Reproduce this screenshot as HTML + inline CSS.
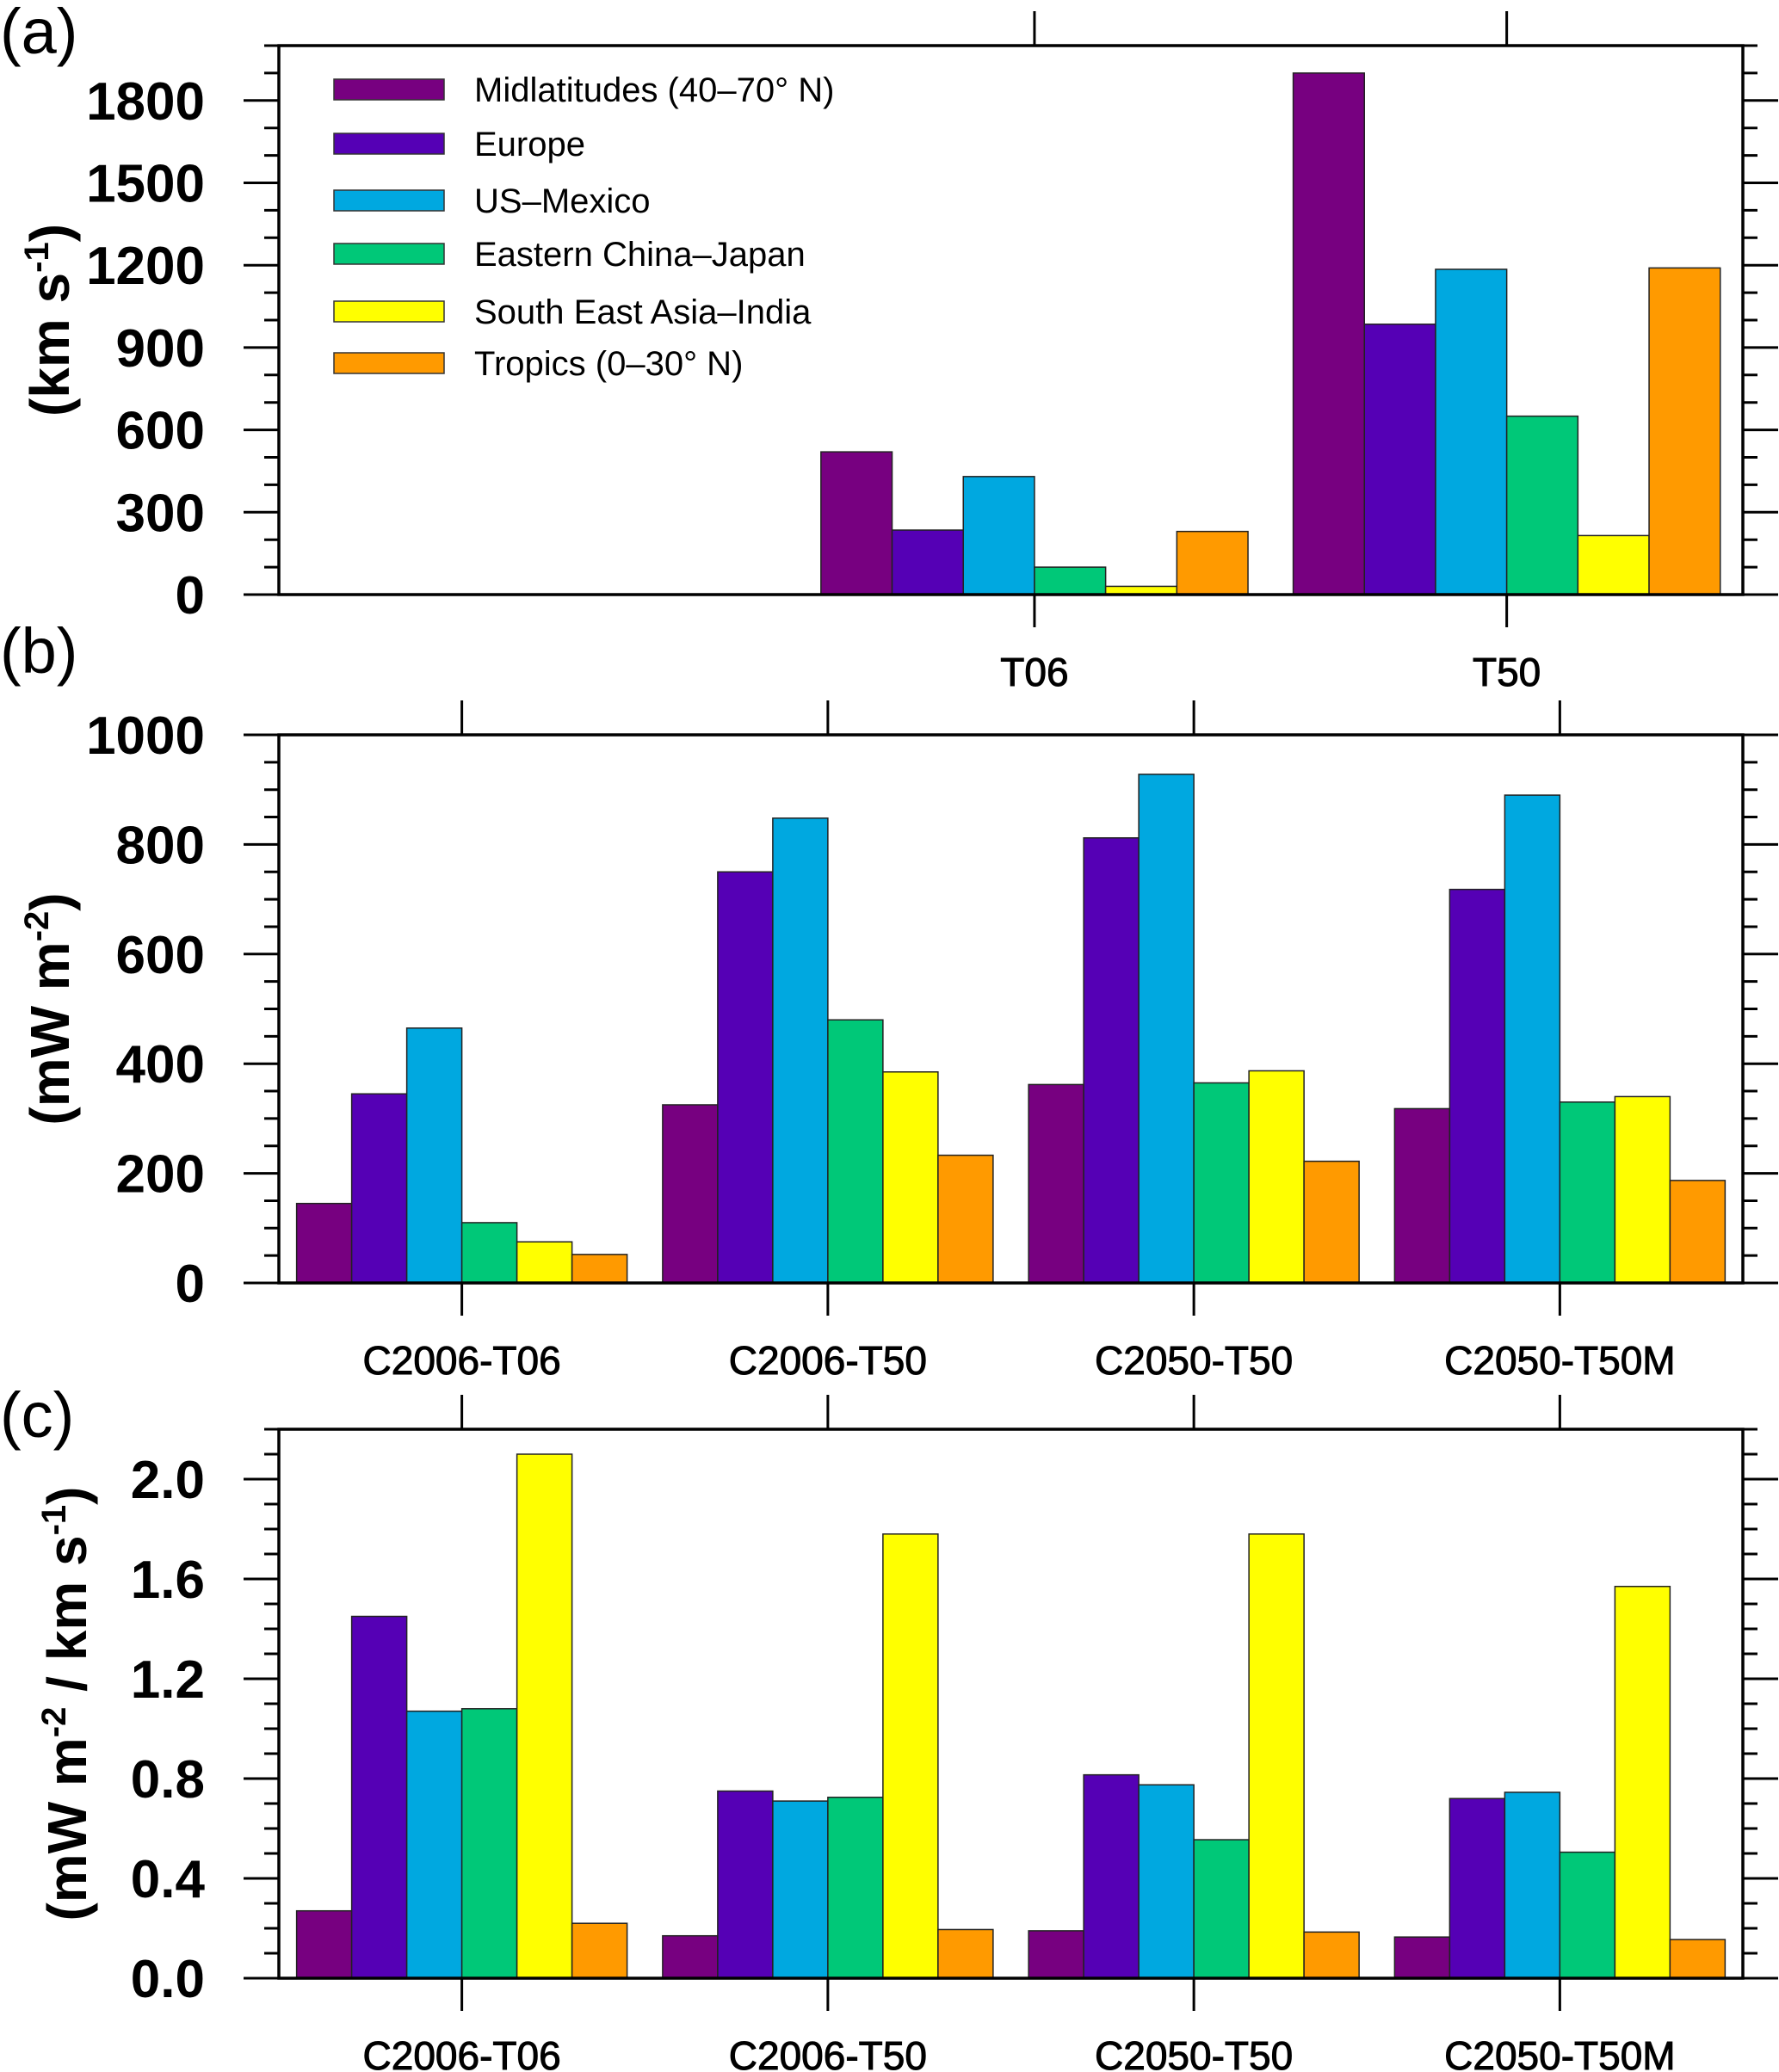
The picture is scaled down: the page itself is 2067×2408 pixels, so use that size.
<!DOCTYPE html>
<html><head><meta charset="utf-8"><style>
html,body{margin:0;padding:0;background:#fff}
svg{display:block}
text{font-family:"Liberation Sans",sans-serif;fill:#000}
</style></head><body>
<svg id="chart" width="2067" height="2408" viewBox="0 0 2067 2408" xmlns="http://www.w3.org/2000/svg"></svg>
<script>
const seriesNames = ["Midlatitudes (40\u201370\u00b0 N)","Europe","US\u2013Mexico","Eastern China\u2013Japan","South East Asia\u2013India","Tropics (0\u201330\u00b0 N)"];
const seriesColors = ["#770080","#5500b5","#00a8e0","#00c878","#ffff00","#ff9a00"];
const catsA = ["T06","T50"];
const valsA = [[520,235,430,100,30,230],[1900,985,1185,650,215,1190]];
const ticksA = [0,300,600,900,1200,1500,1800];
const catsB = ["C2006-T06","C2006-T50","C2050-T50","C2050-T50M"];
const valsB = [[145,345,465,110,75,52],[325,750,848,480,385,233],[362,812,928,365,387,222],[318,718,890,330,340,187]];
const ticksB = [0,200,400,600,800,1000];
const catsC = ["C2006-T06","C2006-T50","C2050-T50","C2050-T50M"];
const valsC = [[0.27,1.45,1.07,1.08,2.10,0.22],[0.17,0.75,0.71,0.725,1.78,0.195],[0.19,0.815,0.775,0.555,1.78,0.185],[0.165,0.72,0.745,0.505,1.57,0.155]];
const ticksC = ["0.0","0.4","0.8","1.2","1.6","2.0"];

const svg = document.getElementById('chart');
const NS = "http://www.w3.org/2000/svg";
function el(tag, attrs, parent){const e=document.createElementNS(NS,tag);for(const k in attrs)e.setAttribute(k,attrs[k]);(parent||svg).appendChild(e);return e;}

function panel(cfg){
  const g = el('g',{});
  
  
  const L=324,R=2025,T=cfg.top,B=cfg.bottom;
  const y = v => B - (v - 0)/(cfg.ymax)*(B-T);
  const x = v => L + (v - cfg.xmin)/(cfg.xmax-cfg.xmin)*(R-L);
  // bars
  cfg.vals.forEach((grp,gi)=>{
    const cx = x(cfg.catPos[gi]);
    const bw = cfg.barW;
    grp.forEach((v,si)=>{
      const bx = cx - bw*3 + si*bw;
      const r = el('rect',{x:bx,y:y(v),width:bw,height:B-y(v),fill:seriesColors[si],stroke:"#222","stroke-width":1.5},g);
      
      
    });
  });
  // frame
  const fr = el('rect',{x:L,y:T,width:R-L,height:B-T,fill:"none",stroke:"#000","stroke-width":3.5},g);
  
  
  // y ticks
  for(let v=0; v<=cfg.ymax+1e-9; v+=cfg.minor){
    const isMaj = Math.abs(v/cfg.major - Math.round(v/cfg.major))<1e-6;
    const len = isMaj?41:17;
    el('line',{x1:L-len,x2:L,y1:y(v),y2:y(v),stroke:"#000","stroke-width":3},g);
    el('line',{x1:R,x2:R+len,y1:y(v),y2:y(v),stroke:"#000","stroke-width":3},g);
  }
  cfg.ticks.forEach(t=>{
    const tx = el('text',{x:238,y:y(parseFloat(t))+22,"text-anchor":"end","font-size":62,"font-weight":"bold"},g);
    tx.textContent = t;
    
    
  });
  // x ticks
  cfg.cats.forEach((c,i)=>{
    const cx = x(cfg.catPos[i]);
    el('line',{x1:cx,x2:cx,y1:T-40,y2:T,stroke:"#000","stroke-width":3},g);
    el('line',{x1:cx,x2:cx,y1:B,y2:B+38,stroke:"#000","stroke-width":3},g);
    const tx = el('text',{x:cx,y:B+106,"text-anchor":"middle","font-size":46,stroke:"#000","stroke-width":1},g);
    tx.textContent = c;
    
    
  });
  // y title
  const cy=(T+B)/2;
  const yt = el('text',{x:0,y:0,transform:`translate(${cfg.titleX},${cy}) rotate(-90)`,"text-anchor":"middle","font-size":64,"font-weight":"bold"},g);
  yt.innerHTML = cfg.title;
  
  
  const pl = el('text',{x:0,y:cfg.letterY,"font-size":74},g);
  pl.textContent = cfg.letter;
  
  
}

panel({name:'panel-a',top:53,bottom:691,ymax:2000,major:300,minor:100,ticks:ticksA.map(String),
  cats:catsA,vals:valsA,catPos:[1,2],xmin:-0.6,xmax:2.5,barW:82.7,
  title:'(km s<tspan dy="-24" font-size="40">-1</tspan><tspan dy="24">)</tspan>',titleX:80,letter:'(a)',letterY:62});
panel({name:'panel-b',top:854,bottom:1491,ymax:1000,major:200,minor:50,ticks:ticksB.map(String),
  cats:catsB,vals:valsB,catPos:[0.5,1.5,2.5,3.5],xmin:0,xmax:4,barW:64,
  title:'(mW m<tspan dy="-24" font-size="40">-2</tspan><tspan dy="24">)</tspan>',titleX:80,letter:'(b)',letterY:782});
panel({name:'panel-c',top:1661,bottom:2299,ymax:2.2,major:0.4,minor:0.1,ticks:ticksC,
  cats:catsC,vals:valsC,catPos:[0.5,1.5,2.5,3.5],xmin:0,xmax:4,barW:64,
  title:'(mW m<tspan dy="-24" font-size="40">-2</tspan><tspan dy="24"> / km s</tspan><tspan dy="-24" font-size="40">-1</tspan><tspan dy="24">)</tspan>',titleX:100,letter:'(c)',letterY:1670});

// legend
const lg = el('g',{});


const legY = [104,167,233,295,362,422];
seriesNames.forEach((n,i)=>{
  const r = el('rect',{x:388,y:legY[i]-12,width:128,height:24,fill:seriesColors[i],stroke:"#333","stroke-width":1.5},lg);
  
  
  const t = el('text',{x:551,y:legY[i]+14,"font-size":40},lg);
  t.textContent = n;
  
  
});
</script>
</body></html>
